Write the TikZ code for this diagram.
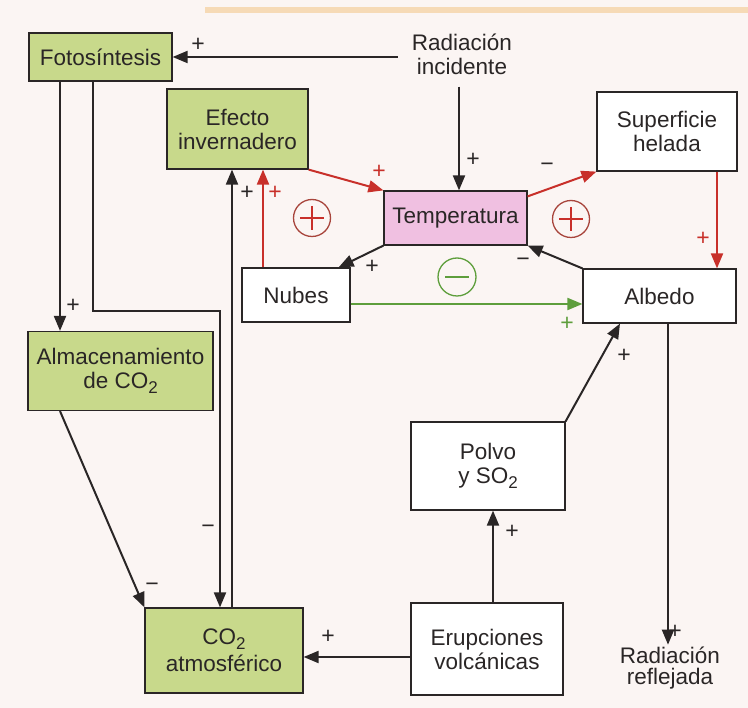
\documentclass[tikz,border=0pt]{standalone}
\usepackage{fontspec}
\setmainfont{Liberation Sans}
\usetikzlibrary{arrows.meta,calc}
\definecolor{boxgreen}{HTML}{C8D98B}
\definecolor{temppink}{HTML}{F0C0E1}
\definecolor{arrred}{HTML}{C8302A}
\definecolor{loopgreen}{HTML}{5E9E3C}
\definecolor{ink}{HTML}{2A2626}
\definecolor{paper}{HTML}{FBF5F3}
\definecolor{circred}{HTML}{A8453C}
\definecolor{strip}{HTML}{F6DAB6}
\newcommand{\subtwo}{\raisebox{-0.4ex}{\fontsize{17}{17}\selectfont 2}}
\begin{document}
\begin{tikzpicture}[x=1pt,y=-1pt,
  box/.style={draw=ink, line width=1.2pt, text=ink, align=center, inner sep=0pt,
    font=\fontsize{22.5}{24}\selectfont},
  gbox/.style={box, fill=boxgreen},
  wbox/.style={box, fill=white},
  plain/.style={text=ink, align=center, inner sep=2pt, font=\fontsize{22.5}{24}\selectfont},
  arr/.style={draw=ink, line width=2pt, -{Triangle[length=15pt,width=12pt]}},
  rarr/.style={arr, draw=arrred},
  garr/.style={arr, draw=loopgreen},
  lbl/.style={text=ink, inner sep=0pt, font=\fontsize{23}{23}\selectfont},
  rlbl/.style={lbl, text=arrred},
  glbl/.style={lbl, text=loopgreen},
  loopc/.style={line width=1.3pt}
]
% page
\fill[paper] (0,0) rectangle (748,708);
\fill[strip] (205,7) rectangle (748,13);

% boxes
\node[gbox, minimum width=143pt, minimum height=48pt] (foto) at (100.5,57) {Fotosíntesis};
\node[gbox, minimum width=141pt, minimum height=80pt] (efecto) at (237.5,129) {Efecto\\invernadero};
\node[box, fill=temppink, minimum width=143pt, minimum height=54pt] (temp) at (455.5,218) {Temperatura};
\node[wbox, minimum width=140pt, minimum height=79pt] (sup) at (667,131.5) {Superficie\\helada};
\node[wbox, minimum width=153pt, minimum height=54pt] (albedo) at (659.5,296) {Albedo};
\node[wbox, minimum width=108pt, minimum height=54pt] (nubes) at (296,295) {Nubes};
\node[gbox, minimum width=185pt, minimum height=79pt] (alm) at (120.5,371) {Almacenamiento\\de CO\subtwo};
\node[gbox, minimum width=158pt, minimum height=85pt, font=\fontsize{22.5}{27}\selectfont] (co2) at (224,650.5) {CO\subtwo\\atmosférico};
\node[wbox, minimum width=154pt, minimum height=88pt] (polvo) at (488,466) {Polvo\\y SO\subtwo};
\node[wbox, minimum width=152pt, minimum height=92pt] (erup) at (487,649) {Erupciones\\volcánicas};
\node[plain] (radinc) at (462,54) {Radiación\\incidente};
\node[plain, font=\fontsize{22.5}{21}\selectfont] (radref) at (670,668) {Radiación\\reflejada};

% helper coordinates (line positions)
\coordinate (xFA) at (60,0);
\coordinate (xFC) at (93,0);
\coordinate (xCI) at (220,0);
\coordinate (yFC) at (0,311);
\coordinate (xCE) at (232,0);
\coordinate (xNE) at (263,0);
\coordinate (xRT) at (459,0);
\coordinate (xSA) at (717,0);
\coordinate (xAR) at (668,0);
\coordinate (xEP) at (493,0);
\coordinate (xPA) at (620,0);
\coordinate (yNA) at (0,304);
\coordinate (yEC) at (0,657);

% connectors
\draw[arr] ($(radinc.west |- foto.east)+(-12,0)$) -- (foto.east);
\draw[arr] ($(radinc.south -| xRT)+(0,10)$) -- (temp.north -| xRT);
\draw[arr] (foto.south -| xFA) -- (alm.north -| xFA);
\draw[arr] (foto.south -| xFC) |- (xCI |- yFC) -- (co2.north -| xCI);
\draw[arr] (alm.south -| xFA) -- (co2.north west);
\draw[arr] (co2.north -| xCE) -- (efecto.south -| xCE);
\draw[rarr] (nubes.north -| xNE) -- (efecto.south -| xNE);
\draw[rarr] (efecto.south east) -- (temp.north west);
\draw[rarr] ([yshift=-6pt]temp.north east) -- (sup.south west);
\draw[rarr] (sup.south -| xSA) -- (albedo.north -| xSA);
\draw[arr] (albedo.north west) -- (temp.south east);
\draw[arr] (temp.south west) -- ([xshift=-12pt]nubes.north east);
\draw[garr] (nubes.east |- yNA) -- (albedo.west |- yNA);
\draw[arr] (polvo.north east) -- (albedo.south -| xPA);
\draw[arr] (erup.north -| xEP) -- (polvo.south -| xEP);
\draw[arr] (erup.west |- yEC) -- (co2.east |- yEC);
\draw[arr] (albedo.south -| xAR) -- (radref.north -| xAR);

% sign labels
\node[lbl] (l1) at (198,45) {+};
\node[lbl] (l2) at (473,160) {+};
\node[lbl] (l3) at (73,306) {+};
\node[lbl] (l4) at (208,529) {−};
\node[lbl] (l5) at (152,587) {−};
\node[lbl] (l6) at (247,193) {+};
\node[rlbl] (l7) at (275,193) {+};
\node[rlbl] (l8) at (379,172) {+};
\node[lbl] (l9) at (547,167) {−};
\node[rlbl] (l10) at (703,239) {+};
\node[lbl] (l11) at (523,262) {−};
\node[lbl] (l12) at (372,267) {+};
\node[glbl] (l13) at (567,324) {+};
\node[lbl] (l14) at (624,356) {+};
\node[lbl] (l15) at (512,532) {+};
\node[lbl] (l16) at (328,637) {+};
\node[lbl] (l17) at (675,632) {+};

% loop polarity symbols
\draw[loopc, circred] (312,218) circle[radius=18.5];
\draw[loopc, arrred] (300,218) -- (324,218) (312,206) -- (312,230);
\draw[loopc, circred] (571,219) circle[radius=18.5];
\draw[loopc, arrred] (559,219) -- (583,219) (571,207) -- (571,231);
\draw[loopc, loopgreen] (457,277) circle[radius=19];
\draw[loopc, loopgreen] (445,277) -- (469,277);
\end{tikzpicture}
\end{document}
